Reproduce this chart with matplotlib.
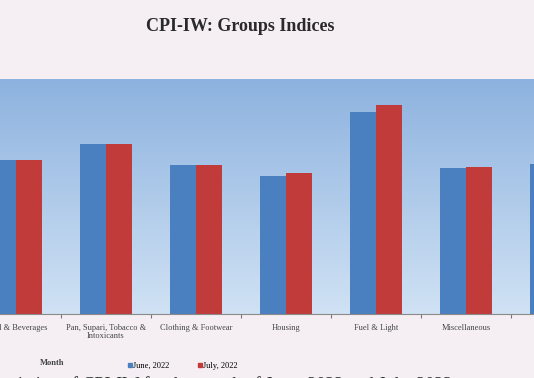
import numpy as np
import matplotlib
matplotlib.use("Agg")
import matplotlib.pyplot as plt
from matplotlib.lines import Line2D

# CPI-IW group indices
groups = ["Food & Beverages", "Pan, Supari, Tobacco &\nIntoxicants", "Clothing & Footwear",
          "Housing", "Fuel & Light", "Miscellaneous", "General Index"]
june = [132.5, 146.3, 128.2, 118.9, 173.8, 125.6, 129.2]
july = [132.7, 146.4, 128.4, 121.4, 180.0, 126.5, 129.9]
series_names = ["June, 2022", "July, 2022"]

blue = "#4a80c0"
red = "#c23b3b"
serif = ["Liberation Serif", "DejaVu Serif"]

fig = plt.figure(figsize=(5.34, 3.78), dpi=100)
fig.patch.set_facecolor("#f5eff3")

ax = fig.add_axes([0.0, 0.169, 1.0, 0.622])
x = np.arange(len(groups))
w = 0.29
x0, x1 = -0.178, 5.756
ymax = 202

ax.bar(x - w / 2, june, w, color=blue, zorder=2)
ax.bar(x + w / 2, july, w, color=red, zorder=2)

# gradient background of the plot area (darker at the top)
grad = np.linspace(0, 1, 256).reshape(-1, 1)
cmap = matplotlib.colors.LinearSegmentedColormap.from_list("bg", ["#8db2df", "#d0e2f4"])
ax.imshow(grad, cmap=cmap, aspect="auto", extent=[x0, x1, 0, ymax],
          origin="upper", zorder=0)

for s in ["top", "right", "left"]:
    ax.spines[s].set_visible(False)
ax.spines["bottom"].set_color("#8a8a8a")
ax.spines["bottom"].set_linewidth(0.8)
ax.set_yticks([])

ax.set_xticks(x[:-1] + 0.5, minor=False)
ax.tick_params(axis="x", which="major", length=3, color="#777777", labelbottom=False)
ax.set_xticks(x, minor=True)
ax.set_xticklabels(groups, minor=True, fontsize=6, family=serif, color="#444444",
                   linespacing=1.0)
ax.tick_params(axis="x", which="minor", length=0, pad=7)
ax.set_xlim(x0, x1)
ax.set_ylim(0, ymax)

fig.text(0.45, 0.93, "CPI-IW: Groups Indices", ha="center", va="center",
         fontsize=13, fontweight="bold", family=serif, color="#2a2a2a")

fig.text(0.075, 0.04, "Month", fontsize=6, fontweight="bold", family=serif,
         color="#444444", va="center")
handles = [Line2D([], [], marker="s", ls="", color=blue, markersize=3),
           Line2D([], [], marker="s", ls="", color=red, markersize=3)]
fig.legend(handles, series_names, loc="center left", bbox_to_anchor=(0.225, 0.032),
           ncol=2, frameon=False, handlelength=0.6, handletextpad=0.1,
           columnspacing=3.3, prop={"family": serif, "size": 6})

# body text of the page, cut off by the crop
fig.text(-0.01, -0.032, "variation of CPI-IW for the month of June, 2022 and July, 2022",
         fontsize=13, family=serif, color="#2a2a2a", va="baseline")

fig.savefig("out.png", dpi=100, facecolor=fig.get_facecolor())
